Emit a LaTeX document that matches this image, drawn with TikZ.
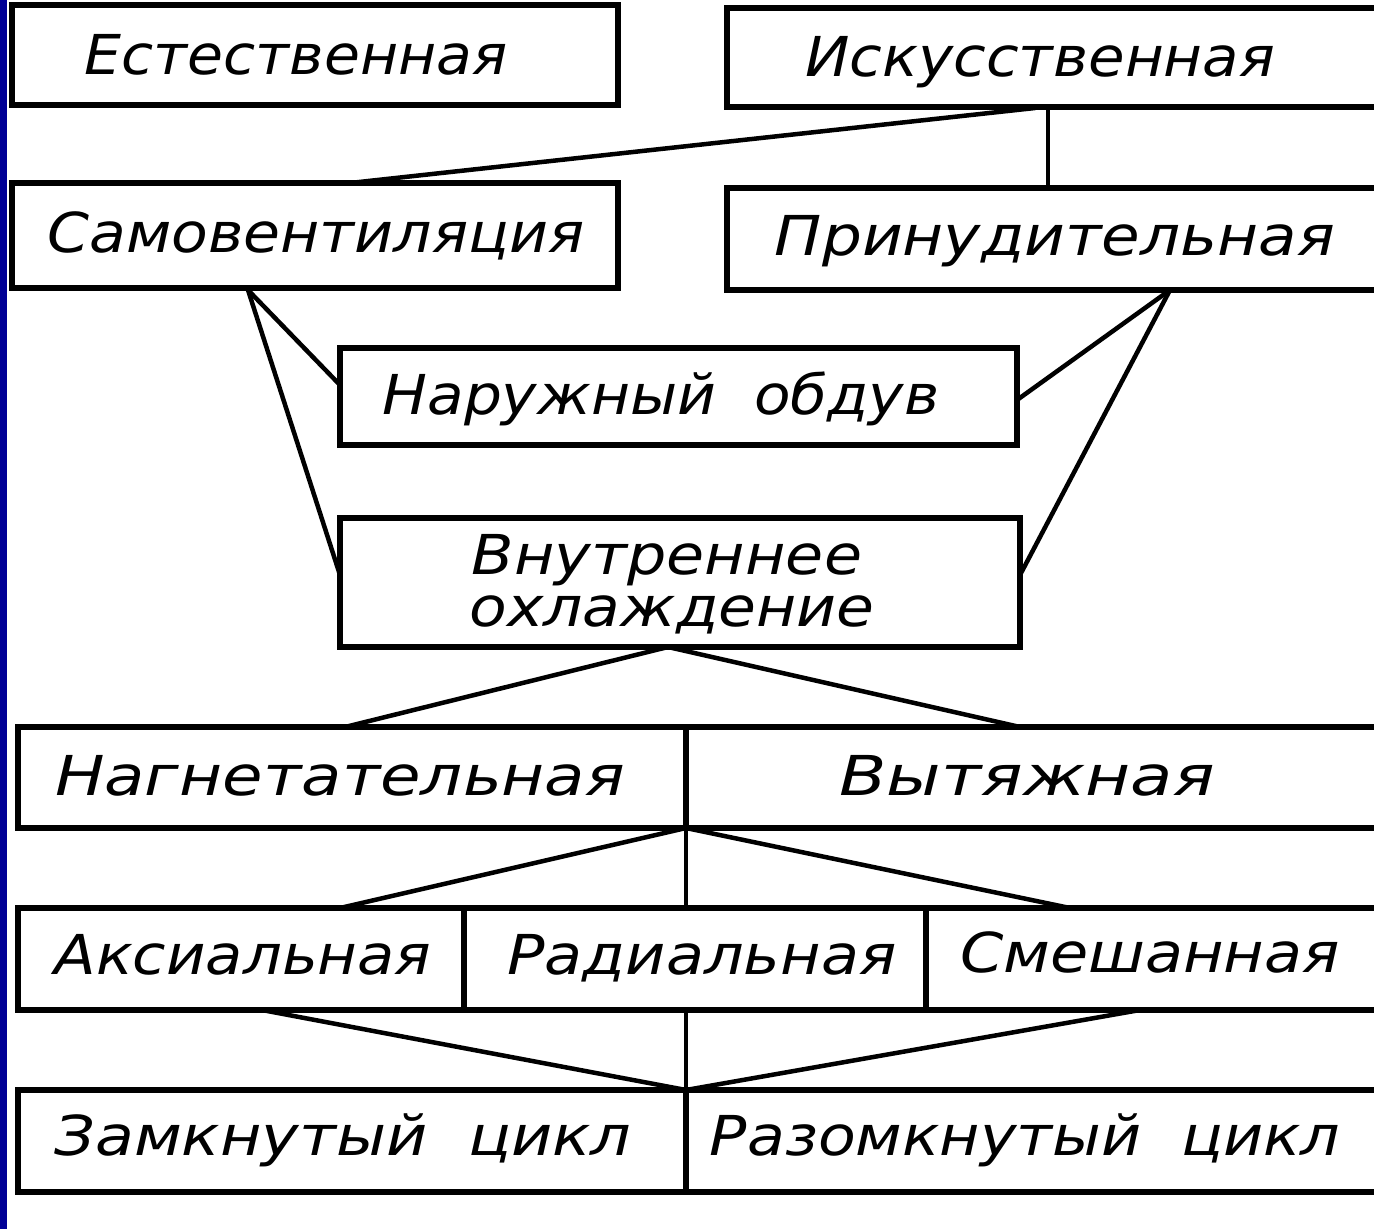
\documentclass[tikz,border=0pt]{standalone}
\usepackage{fontspec}
\usepackage{graphicx}
\setmainfont{DejaVu Sans}
\definecolor{navy}{RGB}{0,0,150}
\newcommand\fitw[2]{\resizebox{#1pt}{\height}{#2}}
\tikzset{
  box/.style={draw=black, line width=5.5pt, rectangle, inner sep=0pt, outer sep=0pt, anchor=north west, fill=none},
  lbl/.style={inner sep=0pt, anchor=base, font=\fontsize{55}{60}\selectfont\itshape},
  conn/.style={draw=black, line width=4.5pt, line cap=round}
}
\begin{document}
\begin{tikzpicture}[x=1pt,y=-1pt]
\useasboundingbox (0,0) rectangle (1374,1229);
\fill[white] (0,0) rectangle (1374,1229);
\clip (0,0) rectangle (1374,1229);
\fill[navy] (0,0) rectangle (7,1229);
% boxes
\node[box, minimum width=606, minimum height=100] (est) at (12,5) {};
\node[box, minimum width=660, minimum height=99] (isk) at (727,8) {};
\node[box, minimum width=606, minimum height=105] (samo) at (12,183) {};
\node[box, minimum width=660, minimum height=102] (prin) at (727,188) {};
\node[box, minimum width=677, minimum height=97] (nar) at (340,348) {};
\node[box, minimum width=680, minimum height=129] (vnu) at (340,518) {};
\node[box, minimum width=668, minimum height=101] (nag) at (18,727) {};
\node[box, minimum width=700, minimum height=101] (vyt) at (686,727) {};
\node[box, minimum width=446, minimum height=102] (aks) at (18,908) {};
\node[box, minimum width=462, minimum height=102] (rad) at (464,908) {};
\node[box, minimum width=460, minimum height=102] (sme) at (926,908) {};
\node[box, minimum width=668, minimum height=102] (zam) at (18,1090) {};
\node[box, minimum width=700, minimum height=102] (raz) at (686,1090) {};
% labels
\node[lbl] (test) at (296,74) {\fitw{423}{Естественная}};
\node[lbl] (tisk) at (1040,76) {\fitw{470}{Искусственная}};
\node[lbl] (tsamo) at (316,252) {\fitw{537}{Самовентиляция}};
\node[lbl] (tprin) at (1055,255) {\fitw{560}{Принудительная}};
\node[lbl] (tnar) at (661,414) {\fitw{557}{Наружный\ \ обдув}};
\node[lbl] (tvnu1) at (667,574) {\fitw{390}{Внутреннее}};
\node[lbl] (tvnu2) at (672,626) {\fitw{405}{охлаждение}};
\node[lbl] (tnag) at (340,795) {\fitw{570}{Нагнетательная}};
\node[lbl] (tvyt) at (1027,795) {\fitw{375}{Вытяжная}};
\node[lbl] (taks) at (243,974) {\fitw{377}{Аксиальная}};
\node[lbl] (trad) at (702,974) {\fitw{389}{Радиальная}};
\node[lbl] (tsme) at (1150,972) {\fitw{380}{Смешанная}};
\node[lbl] (tzam) at (343,1155) {\fitw{577}{Замкнутый\ \ цикл}};
\node[lbl] (traz) at (1025,1155) {\fitw{630}{Разомкнутый\ \ цикл}};
% connection points
\coordinate (c1) at (1035,108);
\coordinate (c2) at (1048,108);
\coordinate (c3) at (350,183);
\coordinate (c4) at (1048,188);
\coordinate (c5) at (248,290);
\coordinate (c6) at (340,385);
\coordinate (c7) at (340,575);
\coordinate (c8) at (1170,290);
\coordinate (c9) at (1017,400);
\coordinate (c10) at (1020,575);
\coordinate (c11) at (668,647);
\coordinate (c12) at (345,727);
\coordinate (c13) at (1020,727);
\coordinate (c14) at (686,828);
\coordinate (c15) at (686,908);
\coordinate (c16) at (340,908);
\coordinate (c17) at (1070,908);
\coordinate (c18) at (262,1010);
\coordinate (c19) at (1140,1010);
\coordinate (c20) at (686,1010);
\coordinate (c21) at (686,1090);
% connectors
\draw[conn] (c1) -- (c3);
\draw[conn] (c2) -- (c4);
\draw[conn] (c5) -- (c6);
\draw[conn] (c5) -- (c7);
\draw[conn] (c8) -- (c9);
\draw[conn] (c8) -- (c10);
\draw[conn] (c11) -- (c12);
\draw[conn] (c11) -- (c13);
\draw[conn] (c14) -- (c15);
\draw[conn] (c14) -- (c16);
\draw[conn] (c14) -- (c17);
\draw[conn] (c18) -- (c21);
\draw[conn] (c19) -- (c21);
\draw[conn] (c20) -- (c21);
\end{tikzpicture}
\end{document}
